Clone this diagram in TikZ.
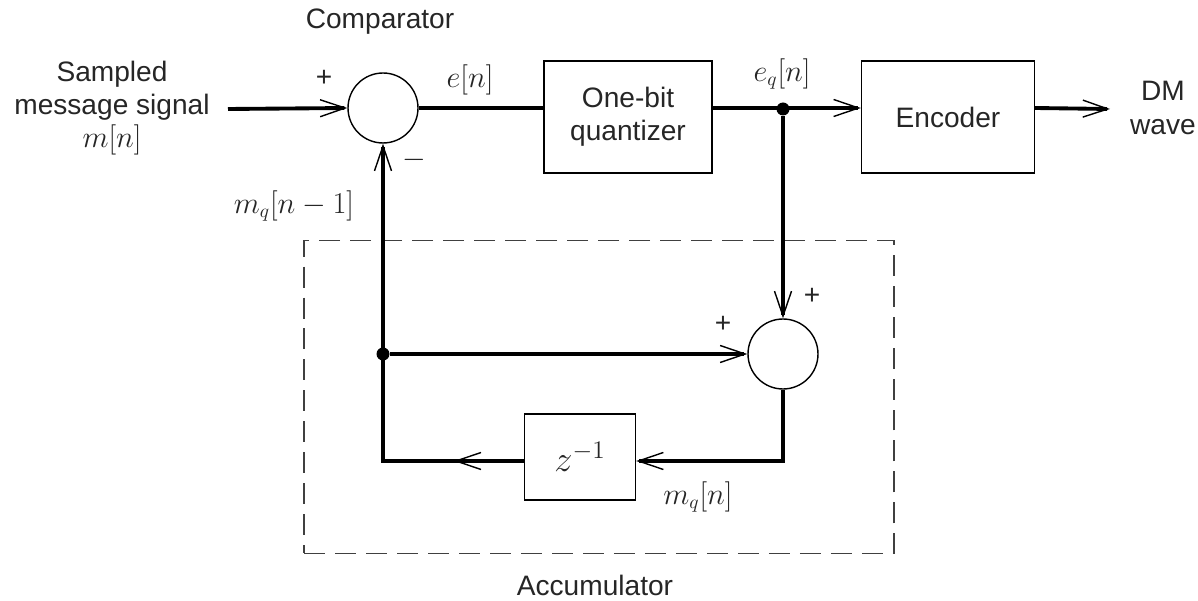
\documentclass[tikz,border=0pt]{standalone}
\usepackage{fontspec}
\setmainfont{Liberation Sans}
\usetikzlibrary{arrows.meta,decorations.markings}

\begin{document}
\begin{tikzpicture}[
    x=0.02cm, y=-0.02cm,
    every node/.style={font=\fontsize{16}{19}\selectfont, align=center, text=black!85},
    block/.style={draw, line width=0.8pt, inner sep=0pt},
    sumnode/.style={draw, circle, line width=0.8pt, minimum size=1.4cm, inner sep=0pt},
    accbox/.style={draw=black!75, line width=0.7pt, dash pattern=on 0.42cm off 0.2cm, minimum width=11.8cm, minimum height=6.26cm},
    sig/.style={line width=2.2pt, line join=miter},
    arrow/.style={sig, -{Straight Barb[length=0.5cm,width=0.34cm,line width=0.8pt]}},
    midarrow/.style={sig, postaction={decorate}, decoration={markings,
        mark=at position 1.4cm with {\arrow{Straight Barb[length=0.5cm,width=0.34cm,line width=0.8pt]}}}},
    dot/.style={circle, fill, inner sep=0pt, minimum size=0.26cm}
]
    \useasboundingbox (0,0) rectangle (1198,601);

    % accumulator frame
    \node[accbox] (acc) at (599,397) {};
    \node (acclbl) at (595,585) {Accumulator};

    % forward path
    \node (msg) at (112,108) {Sampled\\message signal\\$m[n]$};
    \node[sumnode] (cmp) at (383,108) {};
    \node (cmplbl) at (380,22) {Comparator};
    \node[block, minimum width=3.36cm, minimum height=2.24cm] (quant) at (628,117) {One-bit\\quantizer};
    \node[block, minimum width=3.46cm, minimum height=2.24cm] (enc) at (948,117) {Encoder};
    \node (dm) at (1163,108) {DM\\wave};

    % feedback path
    \node[sumnode] (add) at (783,354) {};
    \node[block, minimum width=2.22cm, minimum height=1.72cm, font=\fontsize{21}{24}\selectfont] (zbox) at (580,457) {$z^{-1}$};

    \coordinate (in) at (228,109);
    \coordinate (out) at (1110,109);
    \node[dot] (tap) at (783,109) {};
    \node[dot] (jn) at (383,354) {};
    \coordinate (fbl) at (383,461);

    % signs and signal labels
    \node (p1) at (324,78) {+};
    \node (m1) at (414,160) {$-$};
    \node (p2) at (723,324) {+};
    \node (p3) at (812,296) {+};
    \node (en) at (470,80) {$e[n]$};
    \node (eqn) at (782,74) {$e_q[n]$};
    \node (mqn1) at (294,206) {$m_q[n-1]$};
    \node (mqn) at (698,497) {$m_q[n]$};

    \draw[arrow] (in) -- (cmp.west);
    \draw[sig] (cmp.east) -- (cmp.east -| quant.west);
    \draw[arrow] (quant.east |- cmp) -- (enc.west |- cmp);
    \draw[arrow] (enc.east |- cmp) -- (out);
    \draw[arrow] (tap) -- (add.north);
    \draw[arrow] (add.south) |- (zbox.east |- fbl);
    \draw[midarrow, -{Straight Barb[length=0.5cm,width=0.34cm,line width=0.8pt]}] (zbox.west |- fbl) -| (cmp.south);
    \draw[arrow] (jn) -- (add.west);
\end{tikzpicture}
\end{document}
